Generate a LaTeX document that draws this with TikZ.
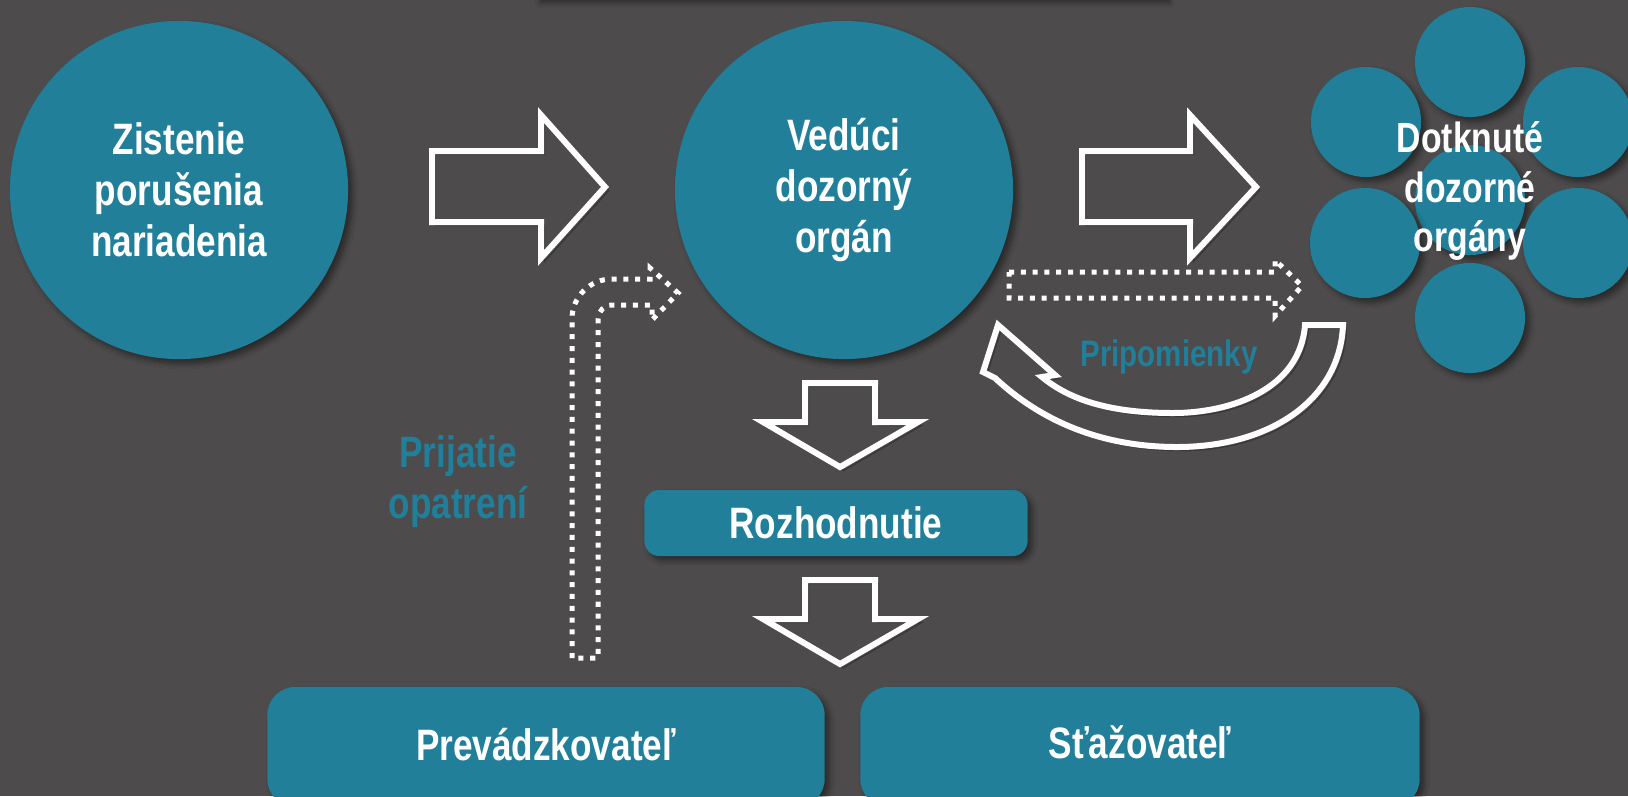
\documentclass[tikz,border=0pt]{standalone}
\usepackage{fontspec}
\setmainfont{Liberation Sans}[FakeStretch=0.8]
\usetikzlibrary{shadows,shadows.blur,positioning}
\definecolor{bggray}{RGB}{77,75,76}
\definecolor{boxteal}{RGB}{33,127,153}
\tikzset{
  softshadow/.style={blur shadow={shadow xshift=1.3pt, shadow yshift=-1.3pt, shadow blur radius=1.5pt,
    shadow blur steps=6, shadow opacity=45}},
  bigcircle/.style={circle, fill=boxteal, softshadow, minimum size=3.38cm, inner sep=0pt, text=white, align=center,
    font=\bfseries\fontsize{12.5}{14.5}\selectfont},
  smallcircle/.style={circle, fill=boxteal, softshadow, minimum size=1.1cm, inner sep=0pt},
  tealbox/.style={rectangle, fill=boxteal, softshadow, inner sep=0pt, text=white,
    font=\bfseries\fontsize{12.5}{14.5}\selectfont},
  blockarrow/.style={draw=white, line width=0.06cm, line join=miter,
    preaction={draw=black, opacity=.25, transform canvas={xshift=1pt, yshift=-1pt}}},
  dotline/.style={draw=white, line width=0.05cm, dash pattern=on 0.05cm off 0.068cm},
  teallabel/.style={text=boxteal, align=center, font=\bfseries\fontsize{12.5}{14.5}\selectfont}
}
\begin{document}
\begin{tikzpicture}[x=0.01cm, y=-0.01cm]
      \fill[bggray] (0,0) rectangle (1628,796);
      \useasboundingbox (0,0) rectangle (1628,796);
      % shadow of the box above the frame
      \fill[bggray, softshadow] (536,-80) rectangle (1165,-2);
      % circles
      \node[bigcircle] (zistenie) at (179,190) {Zistenie\\porušenia\\nariadenia};
      \node[bigcircle] (veduci) at (844,190) {Vedúci\\dozorný\\orgán};
      \node[smallcircle] (mid) at (1470,200) {};
      \node[smallcircle] (top) at (1470,62) {};
      \node[smallcircle] (upleft) at (1366,122) {};
      \node[smallcircle] (upright) at (1578,122) {};
      \node[smallcircle] (lowleft) at (1365,243) {};
      \node[smallcircle] (lowright) at (1578,243) {};
      \node[smallcircle] (bottom) at (1470,318) {};
      \node[text=white, align=center, font=\bfseries\fontsize{12}{14}\selectfont] (dotknute) at (1470,191) {Dotknuté\\dozorné\\orgány};
      % boxes
      \node[tealbox, rounded corners=0.15cm, minimum width=3.83cm, minimum height=0.66cm] (rozhod) at (836,523) {Rozhodnutie};
      \node[tealbox, rounded corners=0.28cm, minimum width=5.57cm, minimum height=1.2cm] (prevad) at (546,747) {};
      \node[tealbox, rounded corners=0.28cm, minimum width=5.59cm, minimum height=1.2cm] (staz) at (1140,747) {};
      \node[text=white, font=\bfseries\fontsize{12.5}{14.5}\selectfont] at (546,745) {Prevádzkovateľ};
      \node[text=white, font=\bfseries\fontsize{12.5}{14.5}\selectfont] at (1140,742) {Sťažovateľ};
      % block arrows
      \draw[blockarrow] (432,151) -- (541,151) -- (541,115) -- (605,187) -- (541,258) -- (541,222) -- (432,222) -- cycle;
      \draw[blockarrow] (1082,151) -- (1190,151) -- (1190,115) -- (1256,187) -- (1190,258) -- (1190,222) -- (1082,222) -- cycle;
      \draw[blockarrow] (805,383) -- (875,383) -- (875,422) -- (918,422) -- (840,467) -- (763,422) -- (805,422) -- cycle;
      \draw[blockarrow] (805,580) -- (875,580) -- (875,619) -- (918,619) -- (840,664) -- (763,619) -- (805,619) -- cycle;
      % curved arrow
      \draw[blockarrow] (1343,325) -- (1305,325) .. controls (1300,390) and (1230,413) .. (1173,413)
        .. controls (1110,413) and (1070,400) .. (1042,377) -- (1055,375) -- (998,325) -- (983,372) -- (995,378)
        .. controls (1040,420) and (1100,447) .. (1177,447) .. controls (1270,447) and (1340,400) .. cycle;
      % dotted arrows
      \draw[dotline] (1009,272) -- (1275,272) -- (1275,260) -- (1302,286) -- (1275,316) -- (1275,298) -- (1009,298) -- cycle;
      \draw[dotline] (572,658) -- (572,319) arc (180:270:40) -- (650,279) -- (650,268) -- (678,293) -- (652,320)
        -- (652,305) -- (612,305) arc (270:180:14) -- (598,658) -- cycle;
      % labels
      \node[teallabel, font=\bfseries\fontsize{10.5}{12}\selectfont] (pripom) at (1169,357) {Pripomienky};
      \node[teallabel] (prijatie) at (458,482) {Prijatie\\opatrení};
\end{tikzpicture}
\end{document}
